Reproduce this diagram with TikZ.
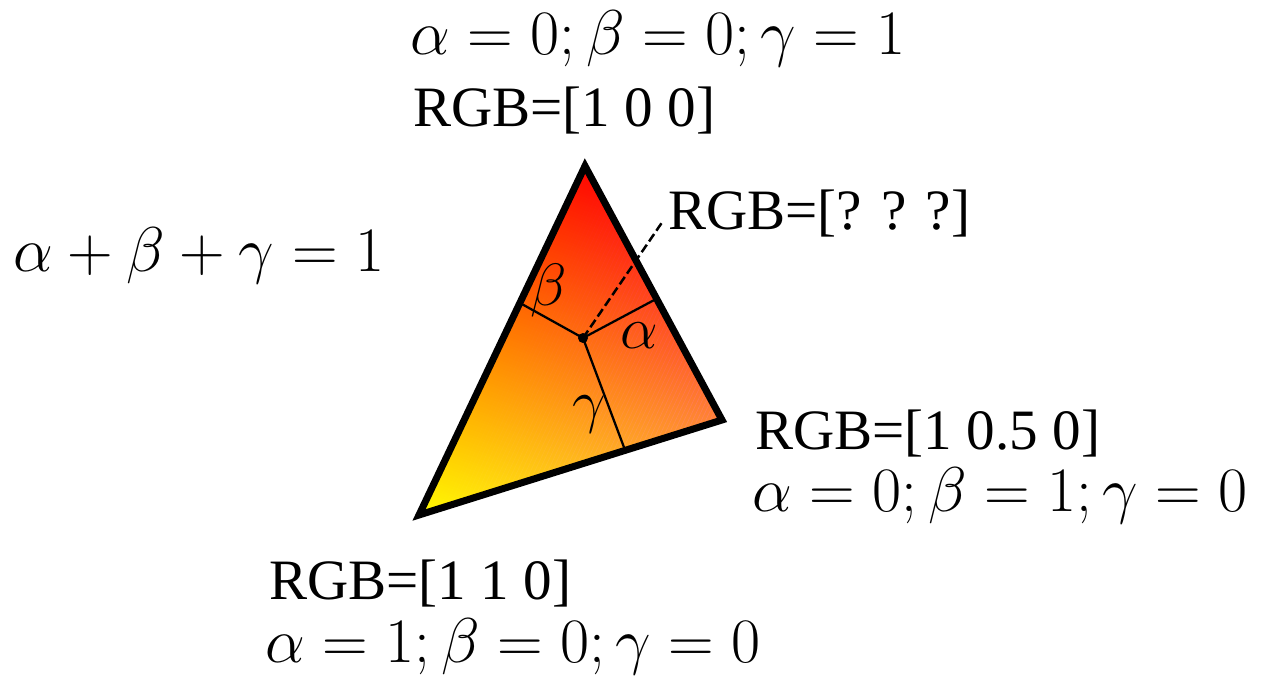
\RequirePackage{fix-cm}
\documentclass[tikz,border=0pt]{standalone}
\usepackage{fontspec}
\setmainfont{Liberation Serif}
\begin{document}
\begin{tikzpicture}[x=0.02cm,y=-0.02cm,
  rgbtext/.style={inner sep=0pt, anchor=base west, font=\fontsize{32.5}{38}\selectfont},
  mathtext/.style={inner sep=0pt, anchor=base west, font=\fontsize{36}{42}\selectfont},
  greek/.style={inner sep=0pt, font=\fontsize{34}{40}\selectfont},
  border/.style={line width=0.14cm, line join=miter},
  split/.style={line width=0.045cm},
  pointer/.style={line width=0.05cm, dash pattern=on 0.18cm off 0.08cm}]
\useasboundingbox (0,0) rectangle (1271,678);
% vertices
\coordinate (T) at (585,166);
\coordinate (R) at (722,420);
\coordinate (L) at (419,515);
\coordinate (P) at (583,338);
\coordinate (B) at (520,303);
\coordinate (A) at (658,298);
\coordinate (G) at (625,450);
\coordinate (D) at (663,221);
% gradient fill (colour linear in position: red - orange - yellow)
\begin{scope}
  \clip (T) -- (R) -- (L) -- cycle;
  \begin{scope}[shift={(583,158)}, rotate=250.5]
    \foreach \i in {0,...,159} {
      \pgfmathsetmacro{\g}{(\i+0.5)/160}
      \pgfmathsetmacro{\sa}{\i*2.49375-1}
      \pgfmathsetmacro{\sb}{\i*2.49375+3.5}
      \definecolor{stripcol}{rgb}{1,\g,0}
      \fill[stripcol] (\sa,-450) -- (\sb,-450) -- (\sb,450) -- (\sa,450) -- cycle;
    }
    \fill[yellow] (398,-450) -- (600,-450) -- (600,450) -- (398,450) -- cycle;
  \end{scope}
  % slight blue tint towards the right corner
  \begin{scope}[shift={(T)}, rotate=-25.4, blend mode=screen]
    \foreach \i in {0,...,59} {
      \pgfmathsetmacro{\bb}{0.22*(\i+0.5)/60}
      \pgfmathsetmacro{\sa}{\i*3.9-0.5}
      \pgfmathsetmacro{\sb}{\i*3.9+3.9}
      \definecolor{tintcol}{rgb}{0,0,\bb}
      \fill[tintcol] (\sa,-450) -- (\sb,-450) -- (\sb,450) -- (\sa,450) -- cycle;
    }
  \end{scope}
\end{scope}
% splitting lines
\draw[split] (P) -- (B);
\draw[split] (P) -- (A);
\draw[split] (P) -- (G);
\draw[pointer] (P) -- (D);
\fill (P) circle (0.1cm);
\draw[border] (T) -- (R) -- (L) -- cycle;
% greek labels
\node[greek] (lb) at (549,291) {$\beta$};
\node[greek] (la) at (639,336) {$\alpha$};
\node[greek] (lg) at (589,414) {$\gamma$};
% texts
\node[mathtext] (eqT) at (410,55) {$\alpha=0;\beta=0;\gamma=1$};
\node[rgbtext] (rgbT) at (413,127) {RGB=[1 0 0]};
\node[rgbtext] (rgbP) at (668,230) {RGB=[? ? ?]};
\node[mathtext] (sum) at (13,272) {$\alpha+\beta+\gamma=1$};
\node[rgbtext] (rgbR) at (755,450) {RGB=[1 0.5 0]};
\node[mathtext] (eqR) at (752,512) {$\alpha=0;\beta=1;\gamma=0$};
\node[rgbtext] (rgbL) at (269,600) {RGB=[1 1 0]};
\node[mathtext] (eqL) at (265,662) {$\alpha=1;\beta=0;\gamma=0$};
\end{tikzpicture}
\end{document}
